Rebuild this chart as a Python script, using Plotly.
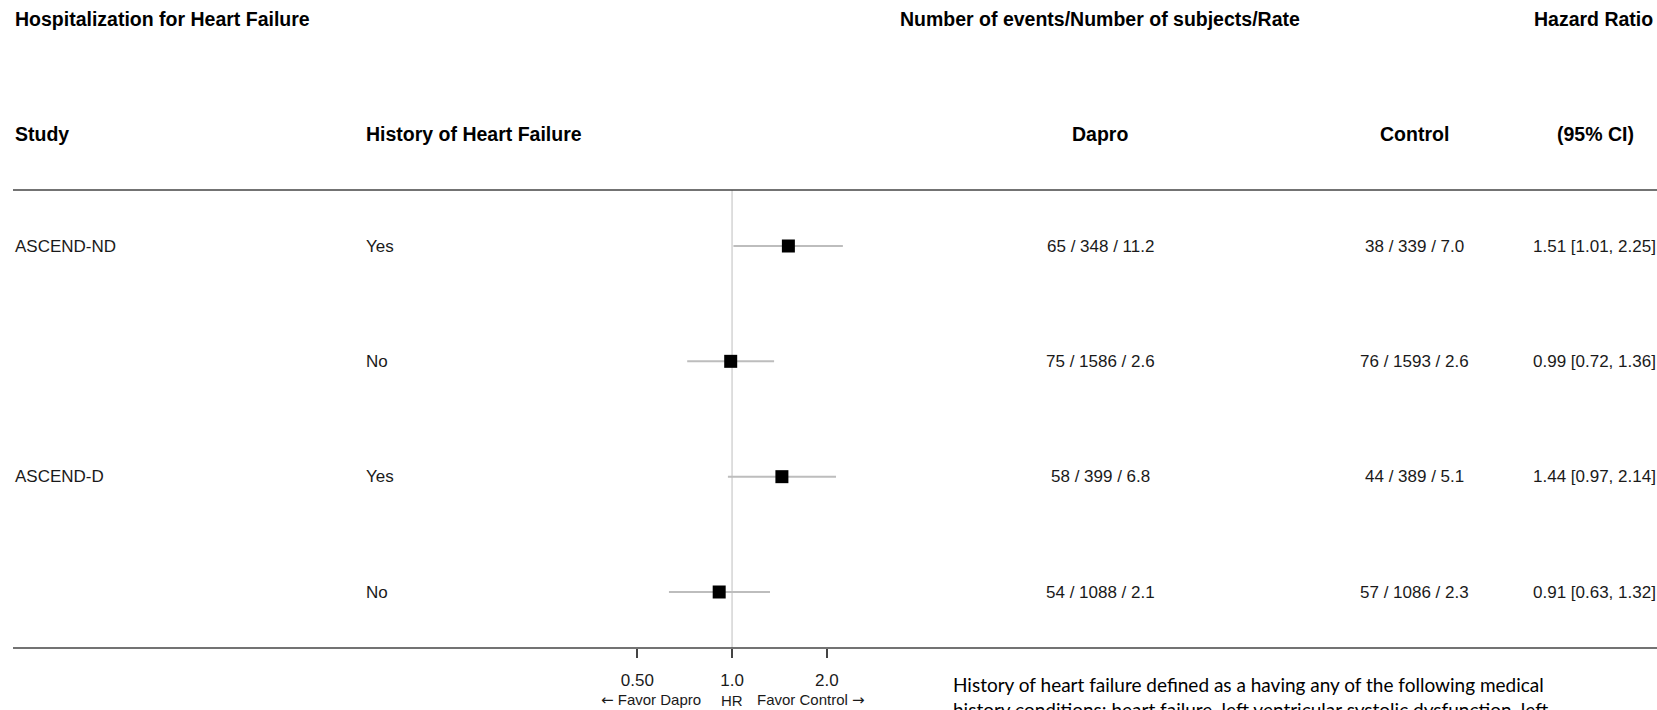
import math
import plotly.graph_objects as go

# ---------------- data ----------------
studies = ["ASCEND-ND", "", "ASCEND-D", ""]
history = ["Yes", "No", "Yes", "No"]
dapro = ["65 / 348 / 11.2", "75 / 1586 / 2.6", "58 / 399 / 6.8", "54 / 1088 / 2.1"]
control = ["38 / 339 / 7.0", "76 / 1593 / 2.6", "44 / 389 / 5.1", "57 / 1086 / 2.3"]
hr = [1.51, 0.99, 1.44, 0.91]
ci_lo = [1.01, 0.72, 0.97, 0.63]
ci_hi = [2.25, 1.36, 2.14, 1.32]
tick_vals = [0.5, 1.0, 2.0]
tick_text = ["0.50", "1.0", "2.0"]
ref_value = 1.0

title_text = "Hospitalization for Heart Failure"
header_counts = "Number of events/Number of subjects/Rate"
header_hr1 = "Hazard Ratio"
header_hr2 = "(95% CI)"
col_headers = ["Study", "History of Heart Failure", "Dapro", "Control"]
footnote = ("History of heart failure defined as a having any of the following medical<br>"
            "history conditions: heart failure, left ventricular systolic dysfunction, left")

# ---------------- layout helpers ----------------
W, H = 1657, 710
rows = [4, 3, 2, 1]
XRANGE = [-2.327, 2.940]           # log10 range of the HR axis (full width)
Y_TOP_PX, Y_BOT_PX = 246.0, 592.0   # pixel rows of first / last study line
unit = (Y_BOT_PX - Y_TOP_PX) / 3.0
YRANGE = [1 - (H - Y_BOT_PX) / unit, 4 + Y_TOP_PX / unit]


def px(x):
    return x / W


def py(y):
    return 1 - y / H


hr_text = [f"{h:.2f} [{l:.2f}, {u:.2f}]" for h, l, u in zip(hr, ci_lo, ci_hi)]

FONT = "Liberation Sans, Arial, sans-serif"
TXT = "#1a1a1a"

fig = go.Figure()

# reference line at HR = 1
line_top = 4 + (Y_TOP_PX - 190) / unit
line_bot = 1 - (648 - Y_BOT_PX) / unit
fig.add_trace(go.Scatter(
    x=[ref_value, ref_value], y=[line_bot, line_top], mode="lines",
    line=dict(color="#d4d4d4", width=1.5), hoverinfo="skip", showlegend=False))

# hazard ratios with CI
fig.add_trace(go.Scatter(
    x=hr, y=rows, mode="markers",
    marker=dict(symbol="square", size=13, color="black"),
    error_x=dict(type="data", symmetric=False,
                 array=[u - h for h, u in zip(hr, ci_hi)],
                 arrayminus=[h - l for h, l in zip(hr, ci_lo)],
                 color="#bdbdbd", thickness=2, width=0),
    showlegend=False))

ann = []


def add(text, x, y, xanchor="center", size=17, bold=False, yref="paper", xref="paper",
        family=FONT, yanchor="middle", xshift=0, color=TXT):
    ann.append(dict(text=f"<b>{text}</b>" if bold else text, x=x, y=y, xref=xref, yref=yref,
                    xanchor=xanchor, yanchor=yanchor, showarrow=False, xshift=xshift,
                    font=dict(family=family, size=size, color=color)))


# headers
add(title_text, px(13), py(19), "left", 19.5, True, color="black")
add(header_counts, px(1100), py(19), "center", 19.5, True, color="black")
add(header_hr1, px(1655), py(19), "right", 19.5, True, color="black")
add(col_headers[0], px(13), py(134), "left", 19.5, True, color="black")
add(col_headers[1], px(364), py(134), "left", 19.5, True, color="black")
add(col_headers[2], px(1100), py(134), "center", 19.5, True, color="black")
add(col_headers[3], px(1414), py(134), "center", 19.5, True, color="black")
add(header_hr2, px(1595), py(134), "center", 19.5, True, color="black")

# table rows
for r, s, h, d, c, t in zip(rows, studies, history, dapro, control, hr_text):
    if s:
        add(s, px(13), r, "left", yref="y")
    add(h, px(364), r, "left", yref="y")
    add(d, px(1100), r, "center", yref="y")
    add(c, px(1414), r, "center", yref="y")
    add(t, px(1594), r, "center", yref="y")

# favor labels below axis
ARROW = "<span style='font-family:DejaVu Sans'>{}</span>"
x_ref_paper = (math.log10(ref_value) - XRANGE[0]) / (XRANGE[1] - XRANGE[0])
add(ARROW.format("←") + " Favor Dapro", x_ref_paper, py(700), "right", 15, xshift=-29)
add("HR", x_ref_paper, py(700), "center", 15)
add("Favor Control " + ARROW.format("→"), x_ref_paper, py(700), "left", 15, xshift=23)

# footnote
ann.append(dict(text=footnote, x=px(951), y=py(671), xref="paper", yref="paper",
                xanchor="left", yanchor="top", align="left", showarrow=False,
                font=dict(family="Lato, Carlito, Calibri, sans-serif", size=19, color="black")))

shapes = [
    dict(type="line", xref="paper", yref="paper", x0=px(13), x1=1, y0=py(190), y1=py(190),
         line=dict(color="#444444", width=1.5)),
    dict(type="line", xref="paper", yref="paper", x0=px(13), x1=1, y0=py(648), y1=py(648),
         line=dict(color="#444444", width=1.5)),
]

fig.update_layout(
    width=W, height=H,
    margin=dict(l=0, r=0, t=0, b=0),
    paper_bgcolor="white", plot_bgcolor="white",
    xaxis=dict(type="log", range=XRANGE, domain=[0, 1], anchor="free", position=py(648),
               showgrid=False, zeroline=False, showline=False,
               tickmode="array", tickvals=tick_vals, ticktext=tick_text,
               ticks="outside", ticklen=9, tickwidth=1.5, tickcolor="#444444",
               ticklabelstandoff=8,
               tickfont=dict(family=FONT, size=17, color=TXT)),
    yaxis=dict(range=YRANGE, visible=False, domain=[0, 1]),
    annotations=ann,
    shapes=shapes,
)

fig.write_html("out.html")
